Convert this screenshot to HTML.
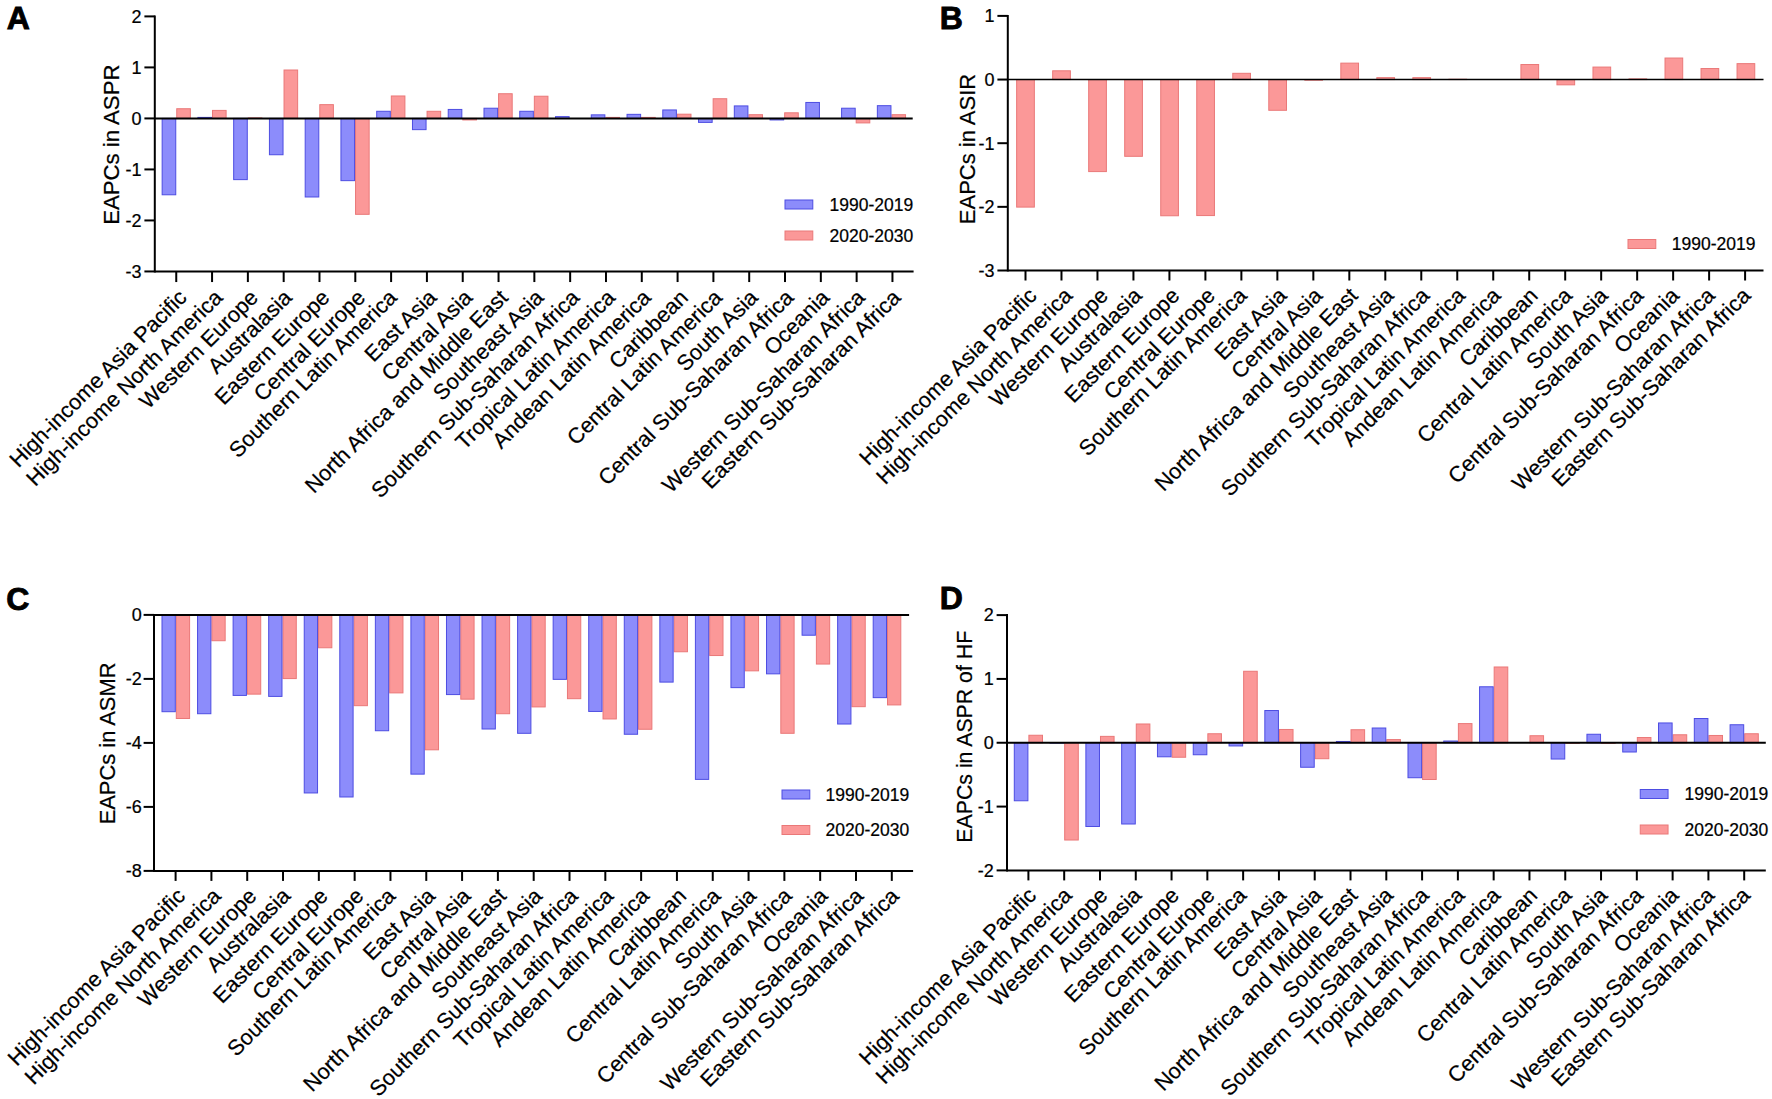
<!DOCTYPE html>
<html><head><meta charset="utf-8"><title>EAPCs by region</title>
<style>html,body{margin:0;padding:0;background:#fff}body{width:1772px;height:1099px;overflow:hidden}svg{display:block}text{fill:#000;stroke:#000;stroke-width:0.22px}text.b{stroke:#000;stroke-width:0.9px;stroke-linejoin:miter}</style>
</head><body>
<svg width="1772" height="1099" viewBox="0 0 1772 1099">
<rect width="1772" height="1099" fill="#fff"/>
<g id="panelA">
<rect x="176.75" y="108.73" width="13.60" height="9.69" fill="#fb9898" stroke="#ea7878" stroke-width="1"/>
<rect x="212.51" y="110.41" width="13.60" height="8.01" fill="#fb9898" stroke="#ea7878" stroke-width="1"/>
<rect x="248.27" y="117.91" width="13.60" height="0.51" fill="#fb9898" stroke="#ea7878" stroke-width="1"/>
<rect x="284.03" y="70.01" width="13.60" height="48.41" fill="#fb9898" stroke="#ea7878" stroke-width="1"/>
<rect x="319.79" y="104.65" width="13.60" height="13.77" fill="#fb9898" stroke="#ea7878" stroke-width="1"/>
<rect x="355.55" y="118.42" width="13.60" height="95.90" fill="#fb9898" stroke="#ea7878" stroke-width="1"/>
<rect x="391.31" y="95.98" width="13.60" height="22.44" fill="#fb9898" stroke="#ea7878" stroke-width="1"/>
<rect x="427.07" y="111.28" width="13.60" height="7.14" fill="#fb9898" stroke="#ea7878" stroke-width="1"/>
<rect x="462.83" y="118.42" width="13.60" height="1.53" fill="#fb9898" stroke="#ea7878" stroke-width="1"/>
<rect x="498.59" y="93.73" width="13.60" height="24.69" fill="#fb9898" stroke="#ea7878" stroke-width="1"/>
<rect x="534.35" y="96.23" width="13.60" height="22.19" fill="#fb9898" stroke="#ea7878" stroke-width="1"/>
<rect x="605.87" y="117.40" width="13.60" height="1.02" fill="#fb9898" stroke="#ea7878" stroke-width="1"/>
<rect x="641.63" y="117.40" width="13.60" height="1.02" fill="#fb9898" stroke="#ea7878" stroke-width="1"/>
<rect x="677.39" y="114.19" width="13.60" height="4.23" fill="#fb9898" stroke="#ea7878" stroke-width="1"/>
<rect x="713.15" y="98.73" width="13.60" height="19.69" fill="#fb9898" stroke="#ea7878" stroke-width="1"/>
<rect x="748.91" y="114.70" width="13.60" height="3.72" fill="#fb9898" stroke="#ea7878" stroke-width="1"/>
<rect x="784.67" y="112.81" width="13.60" height="5.61" fill="#fb9898" stroke="#ea7878" stroke-width="1"/>
<rect x="856.19" y="118.42" width="13.60" height="4.49" fill="#fb9898" stroke="#ea7878" stroke-width="1"/>
<rect x="891.95" y="114.70" width="13.60" height="3.72" fill="#fb9898" stroke="#ea7878" stroke-width="1"/>
<rect x="162.15" y="118.42" width="13.60" height="76.36" fill="#8c8cfb" stroke="#4d4de2" stroke-width="1"/>
<rect x="197.91" y="117.40" width="13.60" height="1.02" fill="#8c8cfb" stroke="#4d4de2" stroke-width="1"/>
<rect x="233.67" y="118.42" width="13.60" height="61.21" fill="#8c8cfb" stroke="#4d4de2" stroke-width="1"/>
<rect x="269.43" y="118.42" width="13.60" height="36.32" fill="#8c8cfb" stroke="#4d4de2" stroke-width="1"/>
<rect x="305.19" y="118.42" width="13.60" height="78.56" fill="#8c8cfb" stroke="#4d4de2" stroke-width="1"/>
<rect x="340.95" y="118.42" width="13.60" height="62.23" fill="#8c8cfb" stroke="#4d4de2" stroke-width="1"/>
<rect x="376.71" y="111.28" width="13.60" height="7.14" fill="#8c8cfb" stroke="#4d4de2" stroke-width="1"/>
<rect x="412.47" y="118.42" width="13.60" height="11.22" fill="#8c8cfb" stroke="#4d4de2" stroke-width="1"/>
<rect x="448.23" y="109.44" width="13.60" height="8.98" fill="#8c8cfb" stroke="#4d4de2" stroke-width="1"/>
<rect x="483.99" y="108.22" width="13.60" height="10.20" fill="#8c8cfb" stroke="#4d4de2" stroke-width="1"/>
<rect x="519.75" y="111.28" width="13.60" height="7.14" fill="#8c8cfb" stroke="#4d4de2" stroke-width="1"/>
<rect x="555.51" y="116.63" width="13.60" height="1.79" fill="#8c8cfb" stroke="#4d4de2" stroke-width="1"/>
<rect x="591.27" y="114.85" width="13.60" height="3.57" fill="#8c8cfb" stroke="#4d4de2" stroke-width="1"/>
<rect x="627.03" y="114.34" width="13.60" height="4.08" fill="#8c8cfb" stroke="#4d4de2" stroke-width="1"/>
<rect x="662.79" y="109.95" width="13.60" height="8.47" fill="#8c8cfb" stroke="#4d4de2" stroke-width="1"/>
<rect x="698.55" y="118.42" width="13.60" height="3.98" fill="#8c8cfb" stroke="#4d4de2" stroke-width="1"/>
<rect x="734.31" y="105.92" width="13.60" height="12.50" fill="#8c8cfb" stroke="#4d4de2" stroke-width="1"/>
<rect x="770.07" y="118.42" width="13.60" height="1.53" fill="#8c8cfb" stroke="#4d4de2" stroke-width="1"/>
<rect x="805.83" y="102.45" width="13.60" height="15.97" fill="#8c8cfb" stroke="#4d4de2" stroke-width="1"/>
<rect x="841.59" y="108.22" width="13.60" height="10.20" fill="#8c8cfb" stroke="#4d4de2" stroke-width="1"/>
<rect x="877.35" y="105.67" width="13.60" height="12.75" fill="#8c8cfb" stroke="#4d4de2" stroke-width="1"/>
<path d="M154.80 15.40V272.45" stroke="#000" stroke-width="2" fill="none"/>
<path d="M154.80 271.45H913.60" stroke="#000" stroke-width="2" fill="none"/>
<path d="M154.80 118.42H912.70" stroke="#000" stroke-width="2" fill="none"/>
<path d="M144.40 16.40H154.80" stroke="#000" stroke-width="2"/>
<text x="141.60" y="22.70" text-anchor="end" font-size="18" font-family="Liberation Sans, Arial, sans-serif">2</text>
<path d="M144.40 67.41H154.80" stroke="#000" stroke-width="2"/>
<text x="141.60" y="73.71" text-anchor="end" font-size="18" font-family="Liberation Sans, Arial, sans-serif">1</text>
<path d="M144.40 118.42H154.80" stroke="#000" stroke-width="2"/>
<text x="141.60" y="124.72" text-anchor="end" font-size="18" font-family="Liberation Sans, Arial, sans-serif">0</text>
<path d="M144.40 169.43H154.80" stroke="#000" stroke-width="2"/>
<text x="141.60" y="175.73" text-anchor="end" font-size="18" font-family="Liberation Sans, Arial, sans-serif">-1</text>
<path d="M144.40 220.44H154.80" stroke="#000" stroke-width="2"/>
<text x="141.60" y="226.74" text-anchor="end" font-size="18" font-family="Liberation Sans, Arial, sans-serif">-2</text>
<path d="M144.40 271.45H154.80" stroke="#000" stroke-width="2"/>
<text x="141.60" y="277.75" text-anchor="end" font-size="18" font-family="Liberation Sans, Arial, sans-serif">-3</text>
<path d="M176.25 271.45V282.05" stroke="#000" stroke-width="2"/>
<text transform="translate(188.05 298.85) rotate(-45)" text-anchor="end" font-size="21.8" font-family="Liberation Sans, Arial, sans-serif">High-income Asia Pacific</text>
<path d="M212.06 271.45V282.05" stroke="#000" stroke-width="2"/>
<text transform="translate(223.74 298.85) rotate(-45)" text-anchor="end" font-size="21.8" font-family="Liberation Sans, Arial, sans-serif">High-income North America</text>
<path d="M247.87 271.45V282.05" stroke="#000" stroke-width="2"/>
<text transform="translate(259.43 298.85) rotate(-45)" text-anchor="end" font-size="21.8" font-family="Liberation Sans, Arial, sans-serif">Western Europe</text>
<path d="M283.68 271.45V282.05" stroke="#000" stroke-width="2"/>
<text transform="translate(293.12 298.85) rotate(-45)" text-anchor="end" font-size="21.8" font-family="Liberation Sans, Arial, sans-serif">Australasia</text>
<path d="M319.49 271.45V282.05" stroke="#000" stroke-width="2"/>
<text transform="translate(330.81 298.85) rotate(-45)" text-anchor="end" font-size="21.8" font-family="Liberation Sans, Arial, sans-serif">Eastern Europe</text>
<path d="M355.30 271.45V282.05" stroke="#000" stroke-width="2"/>
<text transform="translate(366.50 298.85) rotate(-45)" text-anchor="end" font-size="21.8" font-family="Liberation Sans, Arial, sans-serif">Central Europe</text>
<path d="M391.11 271.45V282.05" stroke="#000" stroke-width="2"/>
<text transform="translate(398.19 298.85) rotate(-45)" text-anchor="end" font-size="21.8" font-family="Liberation Sans, Arial, sans-serif">Southern Latin America</text>
<path d="M426.92 271.45V282.05" stroke="#000" stroke-width="2"/>
<text transform="translate(437.88 298.85) rotate(-45)" text-anchor="end" font-size="21.8" font-family="Liberation Sans, Arial, sans-serif">East Asia</text>
<path d="M462.73 271.45V282.05" stroke="#000" stroke-width="2"/>
<text transform="translate(473.57 298.85) rotate(-45)" text-anchor="end" font-size="21.8" font-family="Liberation Sans, Arial, sans-serif">Central Asia</text>
<path d="M498.54 271.45V282.05" stroke="#000" stroke-width="2"/>
<text transform="translate(509.26 298.85) rotate(-45)" text-anchor="end" font-size="21.8" font-family="Liberation Sans, Arial, sans-serif">North Africa and Middle East</text>
<path d="M534.35 271.45V282.05" stroke="#000" stroke-width="2"/>
<text transform="translate(544.95 298.85) rotate(-45)" text-anchor="end" font-size="21.8" font-family="Liberation Sans, Arial, sans-serif">Southeast Asia</text>
<path d="M570.16 271.45V282.05" stroke="#000" stroke-width="2"/>
<text transform="translate(580.64 298.85) rotate(-45)" text-anchor="end" font-size="21.8" font-family="Liberation Sans, Arial, sans-serif">Southern Sub-Saharan Africa</text>
<path d="M605.97 271.45V282.05" stroke="#000" stroke-width="2"/>
<text transform="translate(616.33 298.85) rotate(-45)" text-anchor="end" font-size="21.8" font-family="Liberation Sans, Arial, sans-serif">Tropical Latin America</text>
<path d="M641.78 271.45V282.05" stroke="#000" stroke-width="2"/>
<text transform="translate(652.02 298.85) rotate(-45)" text-anchor="end" font-size="21.8" font-family="Liberation Sans, Arial, sans-serif">Andean Latin America</text>
<path d="M677.59 271.45V282.05" stroke="#000" stroke-width="2"/>
<text transform="translate(689.21 298.85) rotate(-45)" text-anchor="end" font-size="21.8" font-family="Liberation Sans, Arial, sans-serif">Caribbean</text>
<path d="M713.40 271.45V282.05" stroke="#000" stroke-width="2"/>
<text transform="translate(723.40 298.85) rotate(-45)" text-anchor="end" font-size="21.8" font-family="Liberation Sans, Arial, sans-serif">Central Latin America</text>
<path d="M749.21 271.45V282.05" stroke="#000" stroke-width="2"/>
<text transform="translate(759.09 298.85) rotate(-45)" text-anchor="end" font-size="21.8" font-family="Liberation Sans, Arial, sans-serif">South Asia</text>
<path d="M785.02 271.45V282.05" stroke="#000" stroke-width="2"/>
<text transform="translate(794.78 298.85) rotate(-45)" text-anchor="end" font-size="21.8" font-family="Liberation Sans, Arial, sans-serif">Central Sub-Saharan Africa</text>
<path d="M820.83 271.45V282.05" stroke="#000" stroke-width="2"/>
<text transform="translate(830.47 298.85) rotate(-45)" text-anchor="end" font-size="21.8" font-family="Liberation Sans, Arial, sans-serif">Oceania</text>
<path d="M856.64 271.45V282.05" stroke="#000" stroke-width="2"/>
<text transform="translate(866.16 298.85) rotate(-45)" text-anchor="end" font-size="21.8" font-family="Liberation Sans, Arial, sans-serif">Western Sub-Saharan Africa</text>
<path d="M892.45 271.45V282.05" stroke="#000" stroke-width="2"/>
<text transform="translate(901.85 298.85) rotate(-45)" text-anchor="end" font-size="21.8" font-family="Liberation Sans, Arial, sans-serif">Eastern Sub-Saharan Africa</text>
<text transform="translate(118.90 144.70) rotate(-90)" text-anchor="middle" font-size="22.2" font-family="Liberation Sans, Arial, sans-serif">EAPCs in ASPR</text>
<text x="6.8" y="29.0" font-size="32" font-weight="bold" class="b" font-family="Liberation Sans, Arial, sans-serif">A</text>
<rect x="785.0" y="200.0" width="27.8" height="9" fill="#8c8cfb" stroke="#4d4de2" stroke-width="1"/>
<text x="829.5" y="210.5" font-size="17.5" font-family="Liberation Sans, Arial, sans-serif">1990-2019</text>
<rect x="785.0" y="231.0" width="27.8" height="9" fill="#fb9898" stroke="#ea7878" stroke-width="1"/>
<text x="829.5" y="241.5" font-size="17.5" font-family="Liberation Sans, Arial, sans-serif">2020-2030</text>
</g>
<g id="panelB">
<rect x="1016.65" y="79.55" width="17.70" height="127.55" fill="#fb9898" stroke="#ea7878" stroke-width="1"/>
<rect x="1052.67" y="70.80" width="17.70" height="8.75" fill="#fb9898" stroke="#ea7878" stroke-width="1"/>
<rect x="1088.69" y="79.55" width="17.70" height="92.04" fill="#fb9898" stroke="#ea7878" stroke-width="1"/>
<rect x="1124.71" y="79.55" width="17.70" height="76.76" fill="#fb9898" stroke="#ea7878" stroke-width="1"/>
<rect x="1160.73" y="79.55" width="17.70" height="136.21" fill="#fb9898" stroke="#ea7878" stroke-width="1"/>
<rect x="1196.75" y="79.55" width="17.70" height="136.02" fill="#fb9898" stroke="#ea7878" stroke-width="1"/>
<rect x="1232.77" y="73.31" width="17.70" height="6.24" fill="#fb9898" stroke="#ea7878" stroke-width="1"/>
<rect x="1268.79" y="79.55" width="17.70" height="30.74" fill="#fb9898" stroke="#ea7878" stroke-width="1"/>
<rect x="1304.81" y="79.55" width="17.70" height="0.64" fill="#fb9898" stroke="#ea7878" stroke-width="1"/>
<rect x="1340.83" y="63.13" width="17.70" height="16.42" fill="#fb9898" stroke="#ea7878" stroke-width="1"/>
<rect x="1376.85" y="77.64" width="17.70" height="1.91" fill="#fb9898" stroke="#ea7878" stroke-width="1"/>
<rect x="1412.87" y="77.64" width="17.70" height="1.91" fill="#fb9898" stroke="#ea7878" stroke-width="1"/>
<rect x="1448.89" y="79.23" width="17.70" height="0.32" fill="#fb9898" stroke="#ea7878" stroke-width="1"/>
<rect x="1520.93" y="64.53" width="17.70" height="15.02" fill="#fb9898" stroke="#ea7878" stroke-width="1"/>
<rect x="1556.95" y="79.55" width="17.70" height="5.28" fill="#fb9898" stroke="#ea7878" stroke-width="1"/>
<rect x="1592.97" y="67.07" width="17.70" height="12.48" fill="#fb9898" stroke="#ea7878" stroke-width="1"/>
<rect x="1628.99" y="78.91" width="17.70" height="0.64" fill="#fb9898" stroke="#ea7878" stroke-width="1"/>
<rect x="1665.01" y="58.04" width="17.70" height="21.51" fill="#fb9898" stroke="#ea7878" stroke-width="1"/>
<rect x="1701.03" y="68.54" width="17.70" height="11.01" fill="#fb9898" stroke="#ea7878" stroke-width="1"/>
<rect x="1737.05" y="63.64" width="17.70" height="15.91" fill="#fb9898" stroke="#ea7878" stroke-width="1"/>
<path d="M1007.80 14.90V271.50" stroke="#000" stroke-width="2" fill="none"/>
<path d="M1007.80 270.50H1763.50" stroke="#000" stroke-width="2" fill="none"/>
<path d="M1007.80 79.55H1763.50" stroke="#000" stroke-width="1.6" fill="none"/>
<path d="M997.40 15.90H1007.80" stroke="#000" stroke-width="2"/>
<text x="994.60" y="22.20" text-anchor="end" font-size="18" font-family="Liberation Sans, Arial, sans-serif">1</text>
<path d="M997.40 79.55H1007.80" stroke="#000" stroke-width="2"/>
<text x="994.60" y="85.85" text-anchor="end" font-size="18" font-family="Liberation Sans, Arial, sans-serif">0</text>
<path d="M997.40 143.20H1007.80" stroke="#000" stroke-width="2"/>
<text x="994.60" y="149.50" text-anchor="end" font-size="18" font-family="Liberation Sans, Arial, sans-serif">-1</text>
<path d="M997.40 206.85H1007.80" stroke="#000" stroke-width="2"/>
<text x="994.60" y="213.15" text-anchor="end" font-size="18" font-family="Liberation Sans, Arial, sans-serif">-2</text>
<path d="M997.40 270.50H1007.80" stroke="#000" stroke-width="2"/>
<text x="994.60" y="276.80" text-anchor="end" font-size="18" font-family="Liberation Sans, Arial, sans-serif">-3</text>
<path d="M1025.50 270.50V280.50" stroke="#000" stroke-width="2"/>
<text transform="translate(1037.95 297.00) rotate(-45)" text-anchor="end" font-size="21.8" font-family="Liberation Sans, Arial, sans-serif">High-income Asia Pacific</text>
<path d="M1061.48 270.50V280.50" stroke="#000" stroke-width="2"/>
<text transform="translate(1073.64 297.00) rotate(-45)" text-anchor="end" font-size="21.8" font-family="Liberation Sans, Arial, sans-serif">High-income North America</text>
<path d="M1097.46 270.50V280.50" stroke="#000" stroke-width="2"/>
<text transform="translate(1109.33 297.00) rotate(-45)" text-anchor="end" font-size="21.8" font-family="Liberation Sans, Arial, sans-serif">Western Europe</text>
<path d="M1133.44 270.50V280.50" stroke="#000" stroke-width="2"/>
<text transform="translate(1143.02 297.00) rotate(-45)" text-anchor="end" font-size="21.8" font-family="Liberation Sans, Arial, sans-serif">Australasia</text>
<path d="M1169.42 270.50V280.50" stroke="#000" stroke-width="2"/>
<text transform="translate(1180.71 297.00) rotate(-45)" text-anchor="end" font-size="21.8" font-family="Liberation Sans, Arial, sans-serif">Eastern Europe</text>
<path d="M1205.40 270.50V280.50" stroke="#000" stroke-width="2"/>
<text transform="translate(1216.40 297.00) rotate(-45)" text-anchor="end" font-size="21.8" font-family="Liberation Sans, Arial, sans-serif">Central Europe</text>
<path d="M1241.38 270.50V280.50" stroke="#000" stroke-width="2"/>
<text transform="translate(1248.09 297.00) rotate(-45)" text-anchor="end" font-size="21.8" font-family="Liberation Sans, Arial, sans-serif">Southern Latin America</text>
<path d="M1277.36 270.50V280.50" stroke="#000" stroke-width="2"/>
<text transform="translate(1287.78 297.00) rotate(-45)" text-anchor="end" font-size="21.8" font-family="Liberation Sans, Arial, sans-serif">East Asia</text>
<path d="M1313.34 270.50V280.50" stroke="#000" stroke-width="2"/>
<text transform="translate(1323.47 297.00) rotate(-45)" text-anchor="end" font-size="21.8" font-family="Liberation Sans, Arial, sans-serif">Central Asia</text>
<path d="M1349.32 270.50V280.50" stroke="#000" stroke-width="2"/>
<text transform="translate(1359.16 297.00) rotate(-45)" text-anchor="end" font-size="21.8" font-family="Liberation Sans, Arial, sans-serif">North Africa and Middle East</text>
<path d="M1385.30 270.50V280.50" stroke="#000" stroke-width="2"/>
<text transform="translate(1394.85 297.00) rotate(-45)" text-anchor="end" font-size="21.8" font-family="Liberation Sans, Arial, sans-serif">Southeast Asia</text>
<path d="M1421.28 270.50V280.50" stroke="#000" stroke-width="2"/>
<text transform="translate(1430.54 297.00) rotate(-45)" text-anchor="end" font-size="21.8" font-family="Liberation Sans, Arial, sans-serif">Southern Sub-Saharan Africa</text>
<path d="M1457.26 270.50V280.50" stroke="#000" stroke-width="2"/>
<text transform="translate(1466.23 297.00) rotate(-45)" text-anchor="end" font-size="21.8" font-family="Liberation Sans, Arial, sans-serif">Tropical Latin America</text>
<path d="M1493.24 270.50V280.50" stroke="#000" stroke-width="2"/>
<text transform="translate(1501.92 297.00) rotate(-45)" text-anchor="end" font-size="21.8" font-family="Liberation Sans, Arial, sans-serif">Andean Latin America</text>
<path d="M1529.22 270.50V280.50" stroke="#000" stroke-width="2"/>
<text transform="translate(1539.11 297.00) rotate(-45)" text-anchor="end" font-size="21.8" font-family="Liberation Sans, Arial, sans-serif">Caribbean</text>
<path d="M1565.20 270.50V280.50" stroke="#000" stroke-width="2"/>
<text transform="translate(1573.30 297.00) rotate(-45)" text-anchor="end" font-size="21.8" font-family="Liberation Sans, Arial, sans-serif">Central Latin America</text>
<path d="M1601.18 270.50V280.50" stroke="#000" stroke-width="2"/>
<text transform="translate(1608.99 297.00) rotate(-45)" text-anchor="end" font-size="21.8" font-family="Liberation Sans, Arial, sans-serif">South Asia</text>
<path d="M1637.16 270.50V280.50" stroke="#000" stroke-width="2"/>
<text transform="translate(1644.68 297.00) rotate(-45)" text-anchor="end" font-size="21.8" font-family="Liberation Sans, Arial, sans-serif">Central Sub-Saharan Africa</text>
<path d="M1673.14 270.50V280.50" stroke="#000" stroke-width="2"/>
<text transform="translate(1680.37 297.00) rotate(-45)" text-anchor="end" font-size="21.8" font-family="Liberation Sans, Arial, sans-serif">Oceania</text>
<path d="M1709.12 270.50V280.50" stroke="#000" stroke-width="2"/>
<text transform="translate(1716.06 297.00) rotate(-45)" text-anchor="end" font-size="21.8" font-family="Liberation Sans, Arial, sans-serif">Western Sub-Saharan Africa</text>
<path d="M1745.10 270.50V280.50" stroke="#000" stroke-width="2"/>
<text transform="translate(1751.75 297.00) rotate(-45)" text-anchor="end" font-size="21.8" font-family="Liberation Sans, Arial, sans-serif">Eastern Sub-Saharan Africa</text>
<text transform="translate(974.70 149.00) rotate(-90)" text-anchor="middle" font-size="22.0" font-family="Liberation Sans, Arial, sans-serif">EAPCs in ASIR</text>
<text x="939.8" y="28.9" font-size="32" font-weight="bold" class="b" font-family="Liberation Sans, Arial, sans-serif">B</text>
<rect x="1628.0" y="239.5" width="27.8" height="9" fill="#fb9898" stroke="#ea7878" stroke-width="1"/>
<text x="1671.75" y="250" font-size="17.5" font-family="Liberation Sans, Arial, sans-serif">1990-2019</text>
</g>
<g id="panelC">
<rect x="176.30" y="614.90" width="13.30" height="103.58" fill="#fb9898" stroke="#ea7878" stroke-width="1"/>
<rect x="211.86" y="614.90" width="13.30" height="25.82" fill="#fb9898" stroke="#ea7878" stroke-width="1"/>
<rect x="247.42" y="614.90" width="13.30" height="79.23" fill="#fb9898" stroke="#ea7878" stroke-width="1"/>
<rect x="282.98" y="614.90" width="13.30" height="63.68" fill="#fb9898" stroke="#ea7878" stroke-width="1"/>
<rect x="318.54" y="614.90" width="13.30" height="32.86" fill="#fb9898" stroke="#ea7878" stroke-width="1"/>
<rect x="354.10" y="614.90" width="13.30" height="90.78" fill="#fb9898" stroke="#ea7878" stroke-width="1"/>
<rect x="389.66" y="614.90" width="13.30" height="77.98" fill="#fb9898" stroke="#ea7878" stroke-width="1"/>
<rect x="425.22" y="614.90" width="13.30" height="134.91" fill="#fb9898" stroke="#ea7878" stroke-width="1"/>
<rect x="460.78" y="614.90" width="13.30" height="84.26" fill="#fb9898" stroke="#ea7878" stroke-width="1"/>
<rect x="496.34" y="614.90" width="13.30" height="98.82" fill="#fb9898" stroke="#ea7878" stroke-width="1"/>
<rect x="531.90" y="614.90" width="13.30" height="92.03" fill="#fb9898" stroke="#ea7878" stroke-width="1"/>
<rect x="567.46" y="614.90" width="13.30" height="83.78" fill="#fb9898" stroke="#ea7878" stroke-width="1"/>
<rect x="603.02" y="614.90" width="13.30" height="104.06" fill="#fb9898" stroke="#ea7878" stroke-width="1"/>
<rect x="638.58" y="614.90" width="13.30" height="114.37" fill="#fb9898" stroke="#ea7878" stroke-width="1"/>
<rect x="674.14" y="614.90" width="13.30" height="36.86" fill="#fb9898" stroke="#ea7878" stroke-width="1"/>
<rect x="709.70" y="614.90" width="13.30" height="40.64" fill="#fb9898" stroke="#ea7878" stroke-width="1"/>
<rect x="745.26" y="614.90" width="13.30" height="55.94" fill="#fb9898" stroke="#ea7878" stroke-width="1"/>
<rect x="780.82" y="614.90" width="13.30" height="118.40" fill="#fb9898" stroke="#ea7878" stroke-width="1"/>
<rect x="816.38" y="614.90" width="13.30" height="49.15" fill="#fb9898" stroke="#ea7878" stroke-width="1"/>
<rect x="851.94" y="614.90" width="13.30" height="91.78" fill="#fb9898" stroke="#ea7878" stroke-width="1"/>
<rect x="887.50" y="614.90" width="13.30" height="90.02" fill="#fb9898" stroke="#ea7878" stroke-width="1"/>
<rect x="162.00" y="614.90" width="13.30" height="96.80" fill="#8c8cfb" stroke="#4d4de2" stroke-width="1"/>
<rect x="197.56" y="614.90" width="13.30" height="98.82" fill="#8c8cfb" stroke="#4d4de2" stroke-width="1"/>
<rect x="233.12" y="614.90" width="13.30" height="80.51" fill="#8c8cfb" stroke="#4d4de2" stroke-width="1"/>
<rect x="268.68" y="614.90" width="13.30" height="81.50" fill="#8c8cfb" stroke="#4d4de2" stroke-width="1"/>
<rect x="304.24" y="614.90" width="13.30" height="178.05" fill="#8c8cfb" stroke="#4d4de2" stroke-width="1"/>
<rect x="339.80" y="614.90" width="13.30" height="182.08" fill="#8c8cfb" stroke="#4d4de2" stroke-width="1"/>
<rect x="375.36" y="614.90" width="13.30" height="115.84" fill="#8c8cfb" stroke="#4d4de2" stroke-width="1"/>
<rect x="410.92" y="614.90" width="13.30" height="159.23" fill="#8c8cfb" stroke="#4d4de2" stroke-width="1"/>
<rect x="446.48" y="614.90" width="13.30" height="79.68" fill="#8c8cfb" stroke="#4d4de2" stroke-width="1"/>
<rect x="482.04" y="614.90" width="13.30" height="114.11" fill="#8c8cfb" stroke="#4d4de2" stroke-width="1"/>
<rect x="517.60" y="614.90" width="13.30" height="118.40" fill="#8c8cfb" stroke="#4d4de2" stroke-width="1"/>
<rect x="553.16" y="614.90" width="13.30" height="64.45" fill="#8c8cfb" stroke="#4d4de2" stroke-width="1"/>
<rect x="588.72" y="614.90" width="13.30" height="96.54" fill="#8c8cfb" stroke="#4d4de2" stroke-width="1"/>
<rect x="624.28" y="614.90" width="13.30" height="119.36" fill="#8c8cfb" stroke="#4d4de2" stroke-width="1"/>
<rect x="659.84" y="614.90" width="13.30" height="67.20" fill="#8c8cfb" stroke="#4d4de2" stroke-width="1"/>
<rect x="695.40" y="614.90" width="13.30" height="164.48" fill="#8c8cfb" stroke="#4d4de2" stroke-width="1"/>
<rect x="730.96" y="614.90" width="13.30" height="72.74" fill="#8c8cfb" stroke="#4d4de2" stroke-width="1"/>
<rect x="766.52" y="614.90" width="13.30" height="58.94" fill="#8c8cfb" stroke="#4d4de2" stroke-width="1"/>
<rect x="802.08" y="614.90" width="13.30" height="20.32" fill="#8c8cfb" stroke="#4d4de2" stroke-width="1"/>
<rect x="837.64" y="614.90" width="13.30" height="109.12" fill="#8c8cfb" stroke="#4d4de2" stroke-width="1"/>
<rect x="873.20" y="614.90" width="13.30" height="82.75" fill="#8c8cfb" stroke="#4d4de2" stroke-width="1"/>
<path d="M154.00 613.90V871.90" stroke="#000" stroke-width="2" fill="none"/>
<path d="M154.00 870.90H913.10" stroke="#000" stroke-width="2" fill="none"/>
<path d="M154.00 614.90H909.10" stroke="#000" stroke-width="2" fill="none"/>
<path d="M143.60 614.90H154.00" stroke="#000" stroke-width="2"/>
<text x="141.70" y="621.20" text-anchor="end" font-size="18" font-family="Liberation Sans, Arial, sans-serif">0</text>
<path d="M143.60 678.90H154.00" stroke="#000" stroke-width="2"/>
<text x="141.70" y="685.20" text-anchor="end" font-size="18" font-family="Liberation Sans, Arial, sans-serif">-2</text>
<path d="M143.60 742.90H154.00" stroke="#000" stroke-width="2"/>
<text x="141.70" y="749.20" text-anchor="end" font-size="18" font-family="Liberation Sans, Arial, sans-serif">-4</text>
<path d="M143.60 806.90H154.00" stroke="#000" stroke-width="2"/>
<text x="141.70" y="813.20" text-anchor="end" font-size="18" font-family="Liberation Sans, Arial, sans-serif">-6</text>
<path d="M143.60 870.90H154.00" stroke="#000" stroke-width="2"/>
<text x="141.70" y="877.20" text-anchor="end" font-size="18" font-family="Liberation Sans, Arial, sans-serif">-8</text>
<path d="M175.60 870.90V880.90" stroke="#000" stroke-width="2"/>
<text transform="translate(186.40 897.30) rotate(-45)" text-anchor="end" font-size="21.8" font-family="Liberation Sans, Arial, sans-serif">High-income Asia Pacific</text>
<path d="M211.41 870.90V880.90" stroke="#000" stroke-width="2"/>
<text transform="translate(222.09 897.30) rotate(-45)" text-anchor="end" font-size="21.8" font-family="Liberation Sans, Arial, sans-serif">High-income North America</text>
<path d="M247.22 870.90V880.90" stroke="#000" stroke-width="2"/>
<text transform="translate(257.78 897.30) rotate(-45)" text-anchor="end" font-size="21.8" font-family="Liberation Sans, Arial, sans-serif">Western Europe</text>
<path d="M283.03 870.90V880.90" stroke="#000" stroke-width="2"/>
<text transform="translate(291.47 897.30) rotate(-45)" text-anchor="end" font-size="21.8" font-family="Liberation Sans, Arial, sans-serif">Australasia</text>
<path d="M318.84 870.90V880.90" stroke="#000" stroke-width="2"/>
<text transform="translate(329.16 897.30) rotate(-45)" text-anchor="end" font-size="21.8" font-family="Liberation Sans, Arial, sans-serif">Eastern Europe</text>
<path d="M354.65 870.90V880.90" stroke="#000" stroke-width="2"/>
<text transform="translate(364.85 897.30) rotate(-45)" text-anchor="end" font-size="21.8" font-family="Liberation Sans, Arial, sans-serif">Central Europe</text>
<path d="M390.46 870.90V880.90" stroke="#000" stroke-width="2"/>
<text transform="translate(396.54 897.30) rotate(-45)" text-anchor="end" font-size="21.8" font-family="Liberation Sans, Arial, sans-serif">Southern Latin America</text>
<path d="M426.27 870.90V880.90" stroke="#000" stroke-width="2"/>
<text transform="translate(436.23 897.30) rotate(-45)" text-anchor="end" font-size="21.8" font-family="Liberation Sans, Arial, sans-serif">East Asia</text>
<path d="M462.08 870.90V880.90" stroke="#000" stroke-width="2"/>
<text transform="translate(471.92 897.30) rotate(-45)" text-anchor="end" font-size="21.8" font-family="Liberation Sans, Arial, sans-serif">Central Asia</text>
<path d="M497.89 870.90V880.90" stroke="#000" stroke-width="2"/>
<text transform="translate(507.61 897.30) rotate(-45)" text-anchor="end" font-size="21.8" font-family="Liberation Sans, Arial, sans-serif">North Africa and Middle East</text>
<path d="M533.70 870.90V880.90" stroke="#000" stroke-width="2"/>
<text transform="translate(543.30 897.30) rotate(-45)" text-anchor="end" font-size="21.8" font-family="Liberation Sans, Arial, sans-serif">Southeast Asia</text>
<path d="M569.51 870.90V880.90" stroke="#000" stroke-width="2"/>
<text transform="translate(578.99 897.30) rotate(-45)" text-anchor="end" font-size="21.8" font-family="Liberation Sans, Arial, sans-serif">Southern Sub-Saharan Africa</text>
<path d="M605.32 870.90V880.90" stroke="#000" stroke-width="2"/>
<text transform="translate(614.68 897.30) rotate(-45)" text-anchor="end" font-size="21.8" font-family="Liberation Sans, Arial, sans-serif">Tropical Latin America</text>
<path d="M641.13 870.90V880.90" stroke="#000" stroke-width="2"/>
<text transform="translate(650.37 897.30) rotate(-45)" text-anchor="end" font-size="21.8" font-family="Liberation Sans, Arial, sans-serif">Andean Latin America</text>
<path d="M676.94 870.90V880.90" stroke="#000" stroke-width="2"/>
<text transform="translate(687.56 897.30) rotate(-45)" text-anchor="end" font-size="21.8" font-family="Liberation Sans, Arial, sans-serif">Caribbean</text>
<path d="M712.75 870.90V880.90" stroke="#000" stroke-width="2"/>
<text transform="translate(721.75 897.30) rotate(-45)" text-anchor="end" font-size="21.8" font-family="Liberation Sans, Arial, sans-serif">Central Latin America</text>
<path d="M748.56 870.90V880.90" stroke="#000" stroke-width="2"/>
<text transform="translate(757.44 897.30) rotate(-45)" text-anchor="end" font-size="21.8" font-family="Liberation Sans, Arial, sans-serif">South Asia</text>
<path d="M784.37 870.90V880.90" stroke="#000" stroke-width="2"/>
<text transform="translate(793.13 897.30) rotate(-45)" text-anchor="end" font-size="21.8" font-family="Liberation Sans, Arial, sans-serif">Central Sub-Saharan Africa</text>
<path d="M820.18 870.90V880.90" stroke="#000" stroke-width="2"/>
<text transform="translate(828.82 897.30) rotate(-45)" text-anchor="end" font-size="21.8" font-family="Liberation Sans, Arial, sans-serif">Oceania</text>
<path d="M855.99 870.90V880.90" stroke="#000" stroke-width="2"/>
<text transform="translate(864.51 897.30) rotate(-45)" text-anchor="end" font-size="21.8" font-family="Liberation Sans, Arial, sans-serif">Western Sub-Saharan Africa</text>
<path d="M891.80 870.90V880.90" stroke="#000" stroke-width="2"/>
<text transform="translate(900.20 897.30) rotate(-45)" text-anchor="end" font-size="21.8" font-family="Liberation Sans, Arial, sans-serif">Eastern Sub-Saharan Africa</text>
<text transform="translate(115.10 743.45) rotate(-90)" text-anchor="middle" font-size="21.9" font-family="Liberation Sans, Arial, sans-serif">EAPCs in ASMR</text>
<text x="6.2" y="609.8000000000001" font-size="32" font-weight="bold" class="b" font-family="Liberation Sans, Arial, sans-serif">C</text>
<rect x="782.0" y="790.0" width="27.8" height="9" fill="#8c8cfb" stroke="#4d4de2" stroke-width="1"/>
<text x="825.5" y="800.7" font-size="17.5" font-family="Liberation Sans, Arial, sans-serif">1990-2019</text>
<rect x="782.0" y="825.5" width="27.8" height="9" fill="#fb9898" stroke="#ea7878" stroke-width="1"/>
<text x="825.5" y="836.2" font-size="17.5" font-family="Liberation Sans, Arial, sans-serif">2020-2030</text>
</g>
<g id="panelD">
<rect x="1028.90" y="735.25" width="13.60" height="7.50" fill="#fb9898" stroke="#ea7878" stroke-width="1"/>
<rect x="1064.69" y="742.75" width="13.60" height="97.27" fill="#fb9898" stroke="#ea7878" stroke-width="1"/>
<rect x="1100.48" y="736.37" width="13.60" height="6.38" fill="#fb9898" stroke="#ea7878" stroke-width="1"/>
<rect x="1136.27" y="723.99" width="13.60" height="18.76" fill="#fb9898" stroke="#ea7878" stroke-width="1"/>
<rect x="1172.06" y="742.75" width="13.60" height="14.49" fill="#fb9898" stroke="#ea7878" stroke-width="1"/>
<rect x="1207.85" y="733.75" width="13.60" height="9.00" fill="#fb9898" stroke="#ea7878" stroke-width="1"/>
<rect x="1243.64" y="671.27" width="13.60" height="71.48" fill="#fb9898" stroke="#ea7878" stroke-width="1"/>
<rect x="1279.43" y="729.47" width="13.60" height="13.28" fill="#fb9898" stroke="#ea7878" stroke-width="1"/>
<rect x="1315.22" y="742.75" width="13.60" height="15.96" fill="#fb9898" stroke="#ea7878" stroke-width="1"/>
<rect x="1351.01" y="729.73" width="13.60" height="13.02" fill="#fb9898" stroke="#ea7878" stroke-width="1"/>
<rect x="1386.80" y="739.56" width="13.60" height="3.19" fill="#fb9898" stroke="#ea7878" stroke-width="1"/>
<rect x="1422.59" y="742.75" width="13.60" height="36.76" fill="#fb9898" stroke="#ea7878" stroke-width="1"/>
<rect x="1458.38" y="723.60" width="13.60" height="19.15" fill="#fb9898" stroke="#ea7878" stroke-width="1"/>
<rect x="1494.17" y="666.99" width="13.60" height="75.76" fill="#fb9898" stroke="#ea7878" stroke-width="1"/>
<rect x="1529.96" y="735.73" width="13.60" height="7.02" fill="#fb9898" stroke="#ea7878" stroke-width="1"/>
<rect x="1565.75" y="742.75" width="13.60" height="0.64" fill="#fb9898" stroke="#ea7878" stroke-width="1"/>
<rect x="1601.54" y="742.75" width="13.60" height="0.64" fill="#fb9898" stroke="#ea7878" stroke-width="1"/>
<rect x="1637.33" y="737.52" width="13.60" height="5.23" fill="#fb9898" stroke="#ea7878" stroke-width="1"/>
<rect x="1673.12" y="734.77" width="13.60" height="7.98" fill="#fb9898" stroke="#ea7878" stroke-width="1"/>
<rect x="1708.91" y="735.47" width="13.60" height="7.28" fill="#fb9898" stroke="#ea7878" stroke-width="1"/>
<rect x="1744.70" y="733.75" width="13.60" height="9.00" fill="#fb9898" stroke="#ea7878" stroke-width="1"/>
<rect x="1014.30" y="742.75" width="13.60" height="58.02" fill="#8c8cfb" stroke="#4d4de2" stroke-width="1"/>
<rect x="1050.09" y="742.75" width="13.60" height="0.32" fill="#8c8cfb" stroke="#4d4de2" stroke-width="1"/>
<rect x="1085.88" y="742.75" width="13.60" height="83.74" fill="#8c8cfb" stroke="#4d4de2" stroke-width="1"/>
<rect x="1121.67" y="742.75" width="13.60" height="81.25" fill="#8c8cfb" stroke="#4d4de2" stroke-width="1"/>
<rect x="1157.46" y="742.75" width="13.60" height="14.04" fill="#8c8cfb" stroke="#4d4de2" stroke-width="1"/>
<rect x="1193.25" y="742.75" width="13.60" height="12.00" fill="#8c8cfb" stroke="#4d4de2" stroke-width="1"/>
<rect x="1229.04" y="742.75" width="13.60" height="3.19" fill="#8c8cfb" stroke="#4d4de2" stroke-width="1"/>
<rect x="1264.83" y="710.52" width="13.60" height="32.23" fill="#8c8cfb" stroke="#4d4de2" stroke-width="1"/>
<rect x="1300.62" y="742.75" width="13.60" height="24.51" fill="#8c8cfb" stroke="#4d4de2" stroke-width="1"/>
<rect x="1336.41" y="741.47" width="13.60" height="1.28" fill="#8c8cfb" stroke="#4d4de2" stroke-width="1"/>
<rect x="1372.20" y="728.01" width="13.60" height="14.74" fill="#8c8cfb" stroke="#4d4de2" stroke-width="1"/>
<rect x="1407.99" y="742.75" width="13.60" height="34.98" fill="#8c8cfb" stroke="#4d4de2" stroke-width="1"/>
<rect x="1443.78" y="741.03" width="13.60" height="1.72" fill="#8c8cfb" stroke="#4d4de2" stroke-width="1"/>
<rect x="1479.57" y="686.78" width="13.60" height="55.97" fill="#8c8cfb" stroke="#4d4de2" stroke-width="1"/>
<rect x="1551.15" y="742.75" width="13.60" height="16.28" fill="#8c8cfb" stroke="#4d4de2" stroke-width="1"/>
<rect x="1586.94" y="734.26" width="13.60" height="8.49" fill="#8c8cfb" stroke="#4d4de2" stroke-width="1"/>
<rect x="1622.73" y="742.75" width="13.60" height="9.25" fill="#8c8cfb" stroke="#4d4de2" stroke-width="1"/>
<rect x="1658.52" y="722.96" width="13.60" height="19.79" fill="#8c8cfb" stroke="#4d4de2" stroke-width="1"/>
<rect x="1694.31" y="718.50" width="13.60" height="24.25" fill="#8c8cfb" stroke="#4d4de2" stroke-width="1"/>
<rect x="1730.10" y="724.75" width="13.60" height="18.00" fill="#8c8cfb" stroke="#4d4de2" stroke-width="1"/>
<path d="M1007.00 614.10V871.40" stroke="#000" stroke-width="2" fill="none"/>
<path d="M1007.00 870.40H1765.80" stroke="#000" stroke-width="2" fill="none"/>
<path d="M1007.00 742.75H1765.80" stroke="#000" stroke-width="2" fill="none"/>
<path d="M996.60 615.10H1007.00" stroke="#000" stroke-width="2"/>
<text x="993.80" y="621.40" text-anchor="end" font-size="18" font-family="Liberation Sans, Arial, sans-serif">2</text>
<path d="M996.60 678.92H1007.00" stroke="#000" stroke-width="2"/>
<text x="993.80" y="685.22" text-anchor="end" font-size="18" font-family="Liberation Sans, Arial, sans-serif">1</text>
<path d="M996.60 742.75H1007.00" stroke="#000" stroke-width="2"/>
<text x="993.80" y="749.05" text-anchor="end" font-size="18" font-family="Liberation Sans, Arial, sans-serif">0</text>
<path d="M996.60 806.58H1007.00" stroke="#000" stroke-width="2"/>
<text x="993.80" y="812.88" text-anchor="end" font-size="18" font-family="Liberation Sans, Arial, sans-serif">-1</text>
<path d="M996.60 870.40H1007.00" stroke="#000" stroke-width="2"/>
<text x="993.80" y="876.70" text-anchor="end" font-size="18" font-family="Liberation Sans, Arial, sans-serif">-2</text>
<path d="M1028.40 870.40V880.40" stroke="#000" stroke-width="2"/>
<text transform="translate(1037.50 896.70) rotate(-45)" text-anchor="end" font-size="21.8" font-family="Liberation Sans, Arial, sans-serif">High-income Asia Pacific</text>
<path d="M1064.19 870.40V880.40" stroke="#000" stroke-width="2"/>
<text transform="translate(1073.19 896.70) rotate(-45)" text-anchor="end" font-size="21.8" font-family="Liberation Sans, Arial, sans-serif">High-income North America</text>
<path d="M1099.98 870.40V880.40" stroke="#000" stroke-width="2"/>
<text transform="translate(1108.88 896.70) rotate(-45)" text-anchor="end" font-size="21.8" font-family="Liberation Sans, Arial, sans-serif">Western Europe</text>
<path d="M1135.77 870.40V880.40" stroke="#000" stroke-width="2"/>
<text transform="translate(1142.57 896.70) rotate(-45)" text-anchor="end" font-size="21.8" font-family="Liberation Sans, Arial, sans-serif">Australasia</text>
<path d="M1171.56 870.40V880.40" stroke="#000" stroke-width="2"/>
<text transform="translate(1180.26 896.70) rotate(-45)" text-anchor="end" font-size="21.8" font-family="Liberation Sans, Arial, sans-serif">Eastern Europe</text>
<path d="M1207.35 870.40V880.40" stroke="#000" stroke-width="2"/>
<text transform="translate(1215.95 896.70) rotate(-45)" text-anchor="end" font-size="21.8" font-family="Liberation Sans, Arial, sans-serif">Central Europe</text>
<path d="M1243.14 870.40V880.40" stroke="#000" stroke-width="2"/>
<text transform="translate(1247.64 896.70) rotate(-45)" text-anchor="end" font-size="21.8" font-family="Liberation Sans, Arial, sans-serif">Southern Latin America</text>
<path d="M1278.93 870.40V880.40" stroke="#000" stroke-width="2"/>
<text transform="translate(1287.33 896.70) rotate(-45)" text-anchor="end" font-size="21.8" font-family="Liberation Sans, Arial, sans-serif">East Asia</text>
<path d="M1314.72 870.40V880.40" stroke="#000" stroke-width="2"/>
<text transform="translate(1323.02 896.70) rotate(-45)" text-anchor="end" font-size="21.8" font-family="Liberation Sans, Arial, sans-serif">Central Asia</text>
<path d="M1350.51 870.40V880.40" stroke="#000" stroke-width="2"/>
<text transform="translate(1358.71 896.70) rotate(-45)" text-anchor="end" font-size="21.8" font-family="Liberation Sans, Arial, sans-serif">North Africa and Middle East</text>
<path d="M1386.30 870.40V880.40" stroke="#000" stroke-width="2"/>
<text transform="translate(1394.40 896.70) rotate(-45)" text-anchor="end" font-size="21.8" font-family="Liberation Sans, Arial, sans-serif">Southeast Asia</text>
<path d="M1422.09 870.40V880.40" stroke="#000" stroke-width="2"/>
<text transform="translate(1430.09 896.70) rotate(-45)" text-anchor="end" font-size="21.8" font-family="Liberation Sans, Arial, sans-serif">Southern Sub-Saharan Africa</text>
<path d="M1457.88 870.40V880.40" stroke="#000" stroke-width="2"/>
<text transform="translate(1465.78 896.70) rotate(-45)" text-anchor="end" font-size="21.8" font-family="Liberation Sans, Arial, sans-serif">Tropical Latin America</text>
<path d="M1493.67 870.40V880.40" stroke="#000" stroke-width="2"/>
<text transform="translate(1501.47 896.70) rotate(-45)" text-anchor="end" font-size="21.8" font-family="Liberation Sans, Arial, sans-serif">Andean Latin America</text>
<path d="M1529.46 870.40V880.40" stroke="#000" stroke-width="2"/>
<text transform="translate(1538.66 896.70) rotate(-45)" text-anchor="end" font-size="21.8" font-family="Liberation Sans, Arial, sans-serif">Caribbean</text>
<path d="M1565.25 870.40V880.40" stroke="#000" stroke-width="2"/>
<text transform="translate(1572.85 896.70) rotate(-45)" text-anchor="end" font-size="21.8" font-family="Liberation Sans, Arial, sans-serif">Central Latin America</text>
<path d="M1601.04 870.40V880.40" stroke="#000" stroke-width="2"/>
<text transform="translate(1608.54 896.70) rotate(-45)" text-anchor="end" font-size="21.8" font-family="Liberation Sans, Arial, sans-serif">South Asia</text>
<path d="M1636.83 870.40V880.40" stroke="#000" stroke-width="2"/>
<text transform="translate(1644.23 896.70) rotate(-45)" text-anchor="end" font-size="21.8" font-family="Liberation Sans, Arial, sans-serif">Central Sub-Saharan Africa</text>
<path d="M1672.62 870.40V880.40" stroke="#000" stroke-width="2"/>
<text transform="translate(1679.92 896.70) rotate(-45)" text-anchor="end" font-size="21.8" font-family="Liberation Sans, Arial, sans-serif">Oceania</text>
<path d="M1708.41 870.40V880.40" stroke="#000" stroke-width="2"/>
<text transform="translate(1715.61 896.70) rotate(-45)" text-anchor="end" font-size="21.8" font-family="Liberation Sans, Arial, sans-serif">Western Sub-Saharan Africa</text>
<path d="M1744.20 870.40V880.40" stroke="#000" stroke-width="2"/>
<text transform="translate(1751.30 896.70) rotate(-45)" text-anchor="end" font-size="21.8" font-family="Liberation Sans, Arial, sans-serif">Eastern Sub-Saharan Africa</text>
<text transform="translate(972.00 736.75) rotate(-90)" text-anchor="middle" font-size="21.3" font-family="Liberation Sans, Arial, sans-serif">EAPCs in ASPR of HF</text>
<text x="939.8" y="609.4000000000001" font-size="32" font-weight="bold" class="b" font-family="Liberation Sans, Arial, sans-serif">D</text>
<rect x="1640.25" y="789.5" width="27.8" height="9" fill="#8c8cfb" stroke="#4d4de2" stroke-width="1"/>
<text x="1684.5" y="800" font-size="17.5" font-family="Liberation Sans, Arial, sans-serif">1990-2019</text>
<rect x="1640.25" y="825.0" width="27.8" height="9" fill="#fb9898" stroke="#ea7878" stroke-width="1"/>
<text x="1684.5" y="835.5" font-size="17.5" font-family="Liberation Sans, Arial, sans-serif">2020-2030</text>
</g>
</svg>
</body></html>
